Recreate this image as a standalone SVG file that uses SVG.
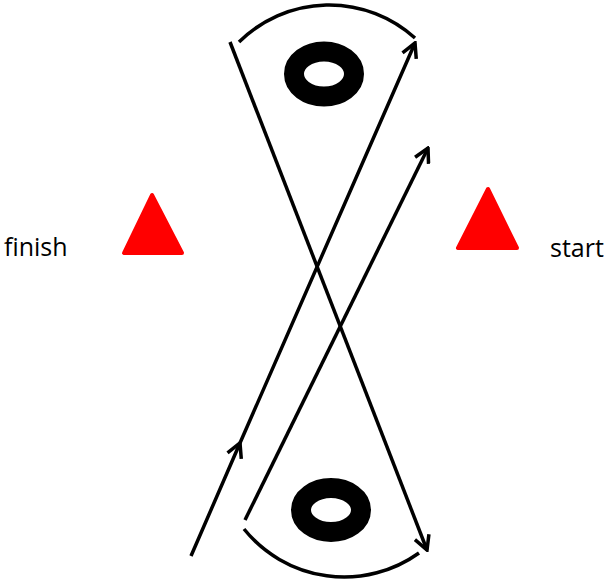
<svg xmlns="http://www.w3.org/2000/svg" width="605" height="587" viewBox="0 0 605 587">
<style>
.ln{fill:none;stroke:#000;stroke-width:3.5}
.tri{fill:#ff0000;stroke:#ff0000;stroke-width:4;stroke-linejoin:round}
.lbl{font-family:"Open Sans","Liberation Sans",sans-serif;font-size:25px;fill:#000}
</style>
<defs>
<marker id="arr" viewBox="-16 -9 18 18" markerWidth="18" markerHeight="18" refX="0" refY="0" orient="auto" markerUnits="userSpaceOnUse">
<polyline points="-14,-7.5 0,0 -14,7.5" fill="none" stroke="#000" stroke-width="3.5"/>
</marker>
</defs>
<rect width="605" height="587" fill="#fff"/>
<g id="top-cone">
<ellipse cx="324" cy="74" rx="30" ry="22.5" fill="none" stroke="#000" stroke-width="20"/>
</g>
<g id="bottom-cone">
<ellipse cx="331" cy="510" rx="30" ry="22" fill="none" stroke="#000" stroke-width="20"/>
</g>
<g id="finish">
<polygon class="tri" points="152,195 124,253 182,253"/>
<text class="lbl" x="4" y="256">finish</text>
</g>
<g id="start">
<polygon class="tri" points="488,189 458,248 517,248"/>
<text class="lbl" x="550" y="257">start</text>
</g>
<g id="connectors">
<path class="ln" d="M239,42 A128,128 0 0 1 415,38"/>
<path class="ln" d="M244,529 A128.5,128.5 0 0 0 419,553"/>
<path class="ln" d="M230,42 L427,550" marker-end="url(#arr)"/>
<path class="ln" d="M191,556 L240,443 L415,43" marker-mid="url(#arr)" marker-end="url(#arr)"/>
<path class="ln" d="M245,520 L428,148" marker-end="url(#arr)"/>
</g>
</svg>
